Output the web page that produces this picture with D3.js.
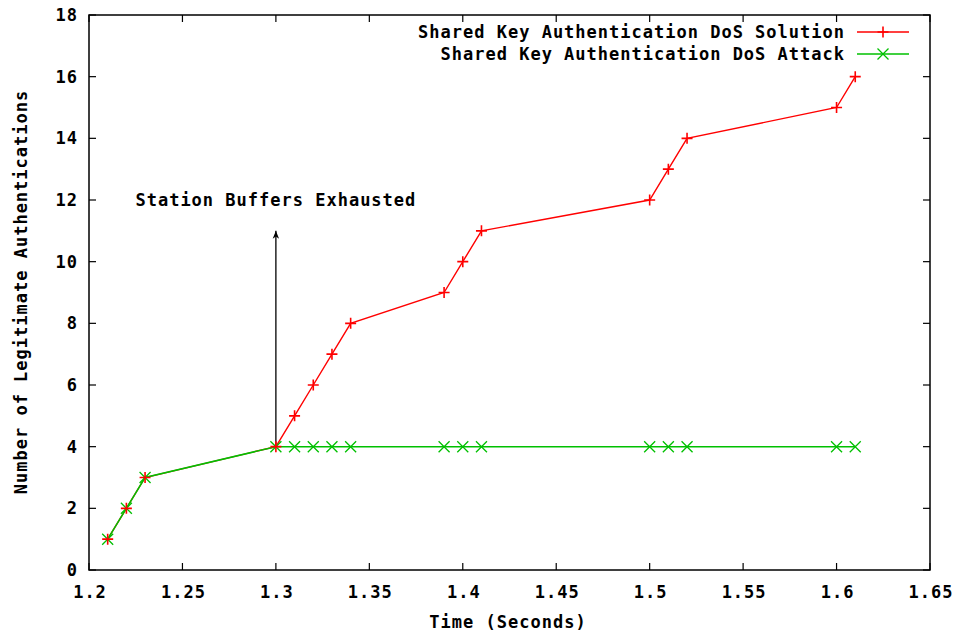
<!DOCTYPE html>
<html><head><meta charset="utf-8">
<script src="https://cdn.jsdelivr.net/npm/d3@7"></script>
<style>
body{margin:0;background:#fff;}
text{font-family:"DejaVu Sans Mono",monospace;font-weight:bold;font-size:17px;letter-spacing:1px;fill:#000;}
</style></head><body>
<svg id="c" width="961" height="634"></svg>
<script>
const times = [1.21,1.22,1.23,1.30,1.31,1.32,1.33,1.34,1.39,1.40,1.41,1.50,1.51,1.52,1.60,1.61];
const solution = [1,2,3,4,5,6,7,8,9,10,11,12,13,14,15,16];
const attack = [1,2,3,4,4,4,4,4,4,4,4,4,4,4,4,4];
const xTicks = [1.2,1.25,1.3,1.35,1.4,1.45,1.5,1.55,1.6,1.65];
const yTicks = [0,2,4,6,8,10,12,14,16,18];
const seriesNames = ["Shared Key Authentication DoS Solution","Shared Key Authentication DoS Attack"];
const annotation = {x:1.3, yFrom:4, yTo:11, labelY:12, text:"Station Buffers Exhausted"};

const svg = d3.select("#c");
const L=89,R=930,T=15,B=570;
const x = d3.scaleLinear().domain([1.2,1.65]).range([L,R]);
const y = d3.scaleLinear().domain([0,18]).range([B,T]);
const fmt = d => String(+d.toFixed(2));

// ticks (inward, mirrored)
const tk=7;
const g = svg.append("g").attr("stroke","#000").attr("stroke-width",1.2);
xTicks.forEach(v=>{
  g.append("line").attr("x1",x(v)).attr("x2",x(v)).attr("y1",B).attr("y2",B-tk);
  g.append("line").attr("x1",x(v)).attr("x2",x(v)).attr("y1",T).attr("y2",T+tk);
});
yTicks.forEach(v=>{
  g.append("line").attr("x1",L).attr("x2",L+tk).attr("y1",y(v)).attr("y2",y(v));
  g.append("line").attr("x1",R).attr("x2",R-tk).attr("y1",y(v)).attr("y2",y(v));
});
svg.append("rect").attr("x",L).attr("y",T).attr("width",R-L).attr("height",B-T)
  .attr("fill","none").attr("stroke","#000").attr("stroke-width",1.5);

xTicks.forEach(v=>{
  svg.append("text").attr("x",x(v)+1).attr("y",598).attr("text-anchor","middle").text(fmt(v));
});
yTicks.forEach(v=>{
  svg.append("text").attr("x",78).attr("y",y(v)+6).attr("text-anchor","end").text(v);
});
svg.append("text").attr("x",508).attr("y",628).attr("text-anchor","middle").text("Time (Seconds)");
svg.append("text").attr("transform","translate(27,292) rotate(-90)").attr("text-anchor","middle")
  .text("Number of Legitimate Authentications");

// annotation arrow
svg.append("defs").append("marker").attr("id","ah").attr("viewBox","0 0 10 10")
  .attr("refX",10).attr("refY",5).attr("markerWidth",8).attr("markerHeight",8)
  .attr("markerUnits","userSpaceOnUse").attr("orient","auto")
  .append("path").attr("d","M0,1 L10,5 L0,9 L3,5 Z").attr("fill","#000");
svg.append("line").attr("x1",x(annotation.x)).attr("x2",x(annotation.x))
  .attr("y1",y(annotation.yFrom)).attr("y2",y(annotation.yTo))
  .attr("stroke","#000").attr("stroke-width",1.3).attr("marker-end","url(#ah)");
svg.append("text").attr("x",x(annotation.x)).attr("y",y(annotation.labelY)+6)
  .attr("text-anchor","middle").text(annotation.text);

const red="#ff0000", green="#00c000";
const line = d3.line().x(d=>x(d[0])).y(d=>y(d[1]));
const solData = times.map((t,i)=>[t,solution[i]]);
const attData = times.map((t,i)=>[t,attack[i]]);
svg.append("path").attr("d",line(solData)).attr("fill","none").attr("stroke",red).attr("stroke-width",1.4);
svg.append("path").attr("d",line(attData)).attr("fill","none").attr("stroke",green).attr("stroke-width",1.5);

const s=5.5;
function cross(px,py,col){
  svg.append("path").attr("d",`M${px-s},${py-s}L${px+s},${py+s}M${px-s},${py+s}L${px+s},${py-s}`)
    .attr("stroke",col).attr("stroke-width",1.3).attr("fill","none");
}
function plus(px,py,col){
  svg.append("path").attr("d",`M${px-s},${py}L${px+s},${py}M${px},${py-s}L${px},${py+s}`)
    .attr("stroke",col).attr("stroke-width",1.6).attr("fill","none");
}
attData.forEach(d=>cross(x(d[0]),y(d[1]),green));
solData.forEach(d=>plus(x(d[0]),y(d[1]),red));

// legend
const ly=[32,54];
[red,green].forEach((c,i)=>{
  svg.append("text").attr("x",845).attr("y",ly[i]+6).attr("text-anchor","end").text(seriesNames[i]);
  svg.append("line").attr("x1",857).attr("x2",909).attr("y1",ly[i]).attr("y2",ly[i]).attr("stroke",c).attr("stroke-width",1.4);
  if(i===0) plus(883,ly[i],c); else cross(883,ly[i],c);
});
</script></body></html>
